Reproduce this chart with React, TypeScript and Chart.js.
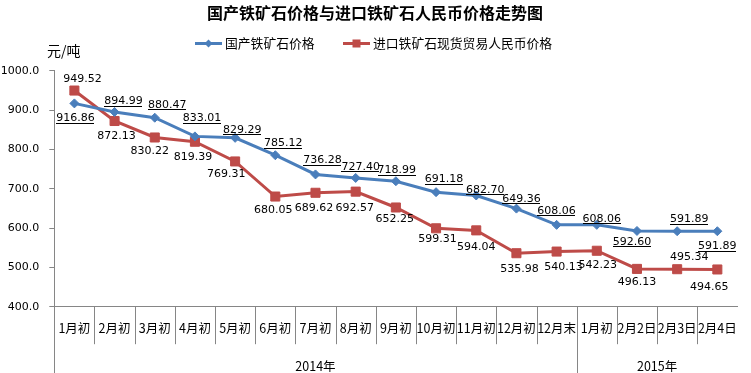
import React, { useEffect, useRef } from "react";
import { Chart, registerables } from "chart.js";

Chart.register(...registerables);

const chartTitle = "国产铁矿石价格与进口铁矿石人民币价格走势图";
const unitLabel = "元/吨";
const seriesNames = ["国产铁矿石价格", "进口铁矿石现货贸易人民币价格"];

const categories = [
  "1月初", "2月初", "3月初", "4月初", "5月初", "6月初", "7月初", "8月初", "9月初",
  "10月初", "11月初", "12月初", "12月末", "1月初", "2月2日", "2月3日", "2月4日",
];
const yearGroups = ["2014年", "2015年"];
const yearGroupSizes = [13, 4];

const domesticPrice = [
  916.86, 894.99, 880.47, 833.01, 829.29, 785.12, 736.28, 727.4, 718.99,
  691.18, 682.7, 649.36, 608.06, 608.06, 592.6, 591.89, 591.89,
];
const importPrice = [
  949.52, 872.13, 830.22, 819.39, 769.31, 680.05, 689.62, 692.57, 652.25,
  599.31, 594.04, 535.98, 540.13, 542.23, 496.13, 495.34, 494.65,
];
const yTickValues = [400, 500, 600, 700, 800, 900, 1000];

// label placement offsets (dx, dy) relative to each point
const domesticLabelOffsets = [
  [1, 14], [9, -12], [12.5, -14], [7, -19], [7, -9], [8, -13], [7, -15], [5, -12], [1, -12],
  [8, -14], [9, -7], [5, -11], [0, -15], [5, -7], [-5, 10], [12, -13], [0, 14],
];
const importLabelOffsets = [
  [8, -13], [2, 14], [-5, 13], [-2, 14], [-9, 12], [-2, 12.5], [-1.5, 14], [-1, 15], [-1, 11],
  [1.5, 10], [0, 16], [3, 14.5], [7, 14.5], [1, 13], [0, 12], [12, -13.5], [-8, 17],
];

const BLUE = "#4A7EBB";
const RED = "#BE4B48";
const AXIS = "#868686";
const CJK = "'Noto Sans CJK SC', 'DejaVu Sans', sans-serif";
const NUM = "'DejaVu Sans', sans-serif";

const overlayPlugin = {
  id: "overlay",
  afterDatasetsDraw(chart: any) {
    const { ctx } = chart;
    ctx.save();
    ctx.font = `11px ${NUM}`;
    ctx.textAlign = "center";
    ctx.textBaseline = "alphabetic";
    ctx.fillStyle = "#000";
    const sets = [
      { values: domesticPrice, offs: domesticLabelOffsets, underline: true },
      { values: importPrice, offs: importLabelOffsets, underline: false },
    ];
    sets.forEach((s, di) => {
      const meta = chart.getDatasetMeta(di);
      meta.data.forEach((pt: any, j: number) => {
        const txt = s.values[j].toFixed(2);
        const cx = pt.x + s.offs[j][0];
        const cy = pt.y + s.offs[j][1];
        const baseY = cy + 4;
        ctx.fillStyle = "#000";
        ctx.fillText(txt, cx, baseY);
        if (s.underline) {
          const w = ctx.measureText(txt).width;
          ctx.fillRect(Math.round(cx - w / 2), Math.round(baseY + 1.5), Math.round(w), 1);
        }
      });
    });
    ctx.restore();
  },
  afterDraw(chart: any) {
    const { ctx, chartArea, scales } = chart;
    const xs = scales.x;
    ctx.save();
    ctx.fillStyle = "#000";
    ctx.textBaseline = "middle";
    // title
    ctx.textAlign = "center";
    ctx.font = `bold 16px ${CJK}`;
    ctx.fillText(chartTitle, 375, 13);
    // unit
    ctx.textAlign = "left";
    ctx.font = `14px ${CJK}`;
    ctx.fillText(unitLabel, 47, 50.5);
    // legend
    const ly = 43.5;
    ctx.font = `12.8px ${CJK}`;
    const drawLegend = (x0: number, color: string, marker: string, name: string) => {
      ctx.strokeStyle = color;
      ctx.lineWidth = 3;
      ctx.beginPath();
      ctx.moveTo(x0, ly);
      ctx.lineTo(x0 + 27, ly);
      ctx.stroke();
      ctx.fillStyle = color;
      const mx = x0 + 13.5;
      if (marker === "diamond") {
        ctx.beginPath();
        ctx.moveTo(mx, ly - 4);
        ctx.lineTo(mx + 4, ly);
        ctx.lineTo(mx, ly + 4);
        ctx.lineTo(mx - 4, ly);
        ctx.closePath();
        ctx.fill();
      } else {
        ctx.fillRect(mx - 4, ly - 4, 8, 8);
      }
      ctx.fillStyle = "#000";
      ctx.fillText(name, x0 + 30, ly);
    };
    drawLegend(195, BLUE, "diamond", seriesNames[0]);
    drawLegend(343, RED, "square", seriesNames[1]);

    // category dividers below the axis
    const bottom = chartArea.bottom;
    const H = chart.height;
    ctx.strokeStyle = AXIS;
    ctx.lineWidth = 1;
    const n = categories.length;
    const half = (xs.getPixelForValue(1) - xs.getPixelForValue(0)) / 2;
    const groupEdges: number[] = [];
    let acc = 0;
    yearGroupSizes.forEach((s) => {
      acc += s;
      groupEdges.push(acc);
    });
    for (let k = 0; k < n; k++) {
      const bx = Math.round(xs.getPixelForValue(k) - half) + 0.5;
      const isGroupEdge = k === 0 || groupEdges.includes(k);
      ctx.beginPath();
      ctx.moveTo(bx, bottom);
      ctx.lineTo(bx, isGroupEdge ? H : bottom + 37.5);
      ctx.stroke();
    }
    // year labels
    ctx.textAlign = "center";
    ctx.font = `12.5px ${CJK}`;
    let start = 0;
    yearGroups.forEach((g, i) => {
      const end = start + yearGroupSizes[i] - 1;
      const left = xs.getPixelForValue(start) - half;
      const right = xs.getPixelForValue(end) + half;
      ctx.fillText(g, (left + right) / 2, 366);
      start = end + 1;
    });
    ctx.restore();
  },
};

export default function App() {
  const canvasRef = useRef<HTMLCanvasElement | null>(null);

  useEffect(() => {
    document.body.style.margin = "0";
    const canvas = canvasRef.current;
    if (!canvas) return;
    const chart = new Chart(canvas, {
      type: "line",
      data: {
        labels: categories,
        datasets: [
          {
            label: seriesNames[0],
            data: domesticPrice,
            borderColor: BLUE,
            backgroundColor: BLUE,
            borderWidth: 3,
            pointStyle: "rectRot",
            pointRadius: 4.5,
            pointBorderWidth: 1,
            pointBackgroundColor: BLUE,
            pointBorderColor: BLUE,
            tension: 0,
          },
          {
            label: seriesNames[1],
            data: importPrice,
            borderColor: RED,
            backgroundColor: RED,
            borderWidth: 3,
            pointStyle: "rect",
            pointRadius: 6.4,
            pointBorderWidth: 1,
            pointBackgroundColor: RED,
            pointBorderColor: RED,
            tension: 0,
          },
        ],
      },
      options: {
        responsive: false,
        animation: false,
        devicePixelRatio: 1,
        layout: { padding: { left: 0, right: 4, top: 70.7, bottom: 0 } },
        plugins: {
          legend: { display: false },
          title: { display: false },
          tooltip: { enabled: false },
        },
        scales: {
          x: {
            type: "category",
            offset: true,
            grid: { display: false, drawTicks: false },
            border: { display: true, color: AXIS, width: 1 },
            ticks: {
              color: "#000",
              font: { family: CJK, size: 12.5 },
              padding: 14,
              maxRotation: 0,
              minRotation: 0,
              autoSkip: false,
            },
            afterFit: (scale: any) => {
              scale.height = 66.3;
            },
          },
          y: {
            min: yTickValues[0],
            max: yTickValues[yTickValues.length - 1],
            grid: { drawOnChartArea: false, tickLength: 5, color: AXIS },
            border: { display: true, color: AXIS, width: 1 },
            ticks: {
              stepSize: 100,
              color: "#000",
              font: { family: NUM, size: 11 },
              padding: 10,
              callback: (v: any) => Number(v).toFixed(1),
            },
            afterFit: (scale: any) => {
              scale.width = 54.3;
            },
          },
        },
      },
      plugins: [overlayPlugin],
    });
    return () => chart.destroy();
  }, []);

  return (
    <div style={{ width: 751, height: 373 }}>
      <canvas ref={canvasRef} width={751} height={373} style={{ display: "block" }} />
    </div>
  );
}
